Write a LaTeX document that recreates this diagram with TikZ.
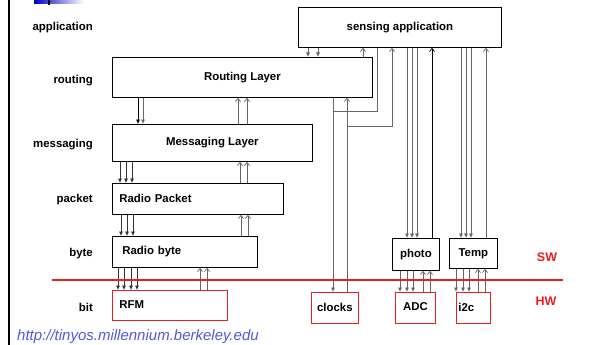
\documentclass[tikz,border=0pt]{standalone}
\usepackage{fontspec}
\setmainfont{Liberation Sans}
\usetikzlibrary{arrows.meta}
\definecolor{urlblue}{RGB}{85,85,225}
\definecolor{hwred}{RGB}{235,30,30}
\begin{document}
\begin{tikzpicture}[x=1pt,y=-1pt,
  lbl/.style={font=\bfseries\fontsize{11.4}{13}\selectfont, inner sep=0pt},
  box/.style={draw=black, line width=0.8pt, fill=white, inner sep=0pt,
    anchor=north west, font=\bfseries\fontsize{11.4}{13}\selectfont},
  hwbox/.style={box, draw=hwred},
  leftbox/.style={box, align=left, text width=#1, inner xsep=7pt},
  conn/.style={line width=0.7pt, draw=black!60},
  dn/.style={conn, -{Latex[length=4.5pt,width=4pt]}},
  upa/.style={conn, -{Straight Barb[length=3.2pt,width=5pt]}},
  swhw/.style={font=\bfseries\fontsize{12.5}{14}\selectfont, text=hwred, inner sep=0pt}
]
\useasboundingbox (0,0) rectangle (592,345);

% page decoration: side rule and title bar stub
\draw[line width=2pt] (9,0) -- (9,345);
\shade[left color=blue!75!black, right color=white] (34,0) rectangle (84,3.5);
\draw[line width=1.5pt] (49,0) -- (49,5);

% layer names
\node[lbl, anchor=base east] (lapp) at (93,31) {application};
\node[lbl, anchor=base east] (lrout) at (93,84) {routing};
\node[lbl, anchor=base east] (lmsg) at (93,147) {messaging};
\node[lbl, anchor=base east] (lpkt) at (93,202) {packet};
\node[lbl, anchor=base east] (lbyte) at (93,256) {byte};
\node[lbl, anchor=base east] (lbit) at (93,311) {bit};

% software components
\node[box, minimum width=203pt, minimum height=40pt] (app) at (298,7) {sensing application};
\node[box, minimum width=260pt, minimum height=40pt] (route) at (112,57) {Routing Layer};
\node[box, minimum width=200pt, minimum height=37pt] (msg) at (112,124) {Messaging Layer};
\node[leftbox=157pt, minimum height=31pt] (pkt) at (112,183) {\raisebox{2pt}{Radio Packet}};
\node[leftbox=131pt, minimum height=31pt] (byte) at (112,236) {\hspace*{3pt}\raisebox{1pt}{Radio byte}};
\node[box, minimum width=47pt, minimum height=32pt] (photo) at (392,238) {photo};
\node[box, minimum width=48pt, minimum height=30pt] (temp) at (449,238) {\raisebox{2pt}{Temp}};

% hardware components
\node[hwbox, align=left, text width=101pt, inner xsep=7pt, minimum height=30pt] (rfm) at (112,290) {\raisebox{2pt}{RFM}};
\node[hwbox, minimum width=47pt, minimum height=31pt] (clocks) at (311,292) {\raisebox{-3pt}{clocks}};
\node[hwbox, minimum width=40pt, minimum height=31pt] (adc) at (395,292) {\raisebox{2pt}{ADC}};
\node[hwbox, align=left, text width=30pt, inner xsep=2pt, minimum height=31pt] (i2c) at (456,292) {\raisebox{1pt}{i2c}};

% application <-> routing
\foreach \x in {308,318} \draw[dn] (\x,0 |- app.south) -- (\x,0 |- route.north);
\draw[upa] (363,0 |- route.north) -- (363,0 |- app.south);

% clocks
\coordinate (cjoin) at (333,111);
\coordinate (cbend) at (377,111);
\draw[conn] (377,0 |- app.south) -- (cbend) -- (cjoin);
\draw[dn] (333,0 |- route.south) -- (333,0 |- clocks.north);
\coordinate (ksplit) at (347,126);
\coordinate (kbend) at (392,126);
\draw[upa] (347,0 |- clocks.north) -- (347,0 |- route.south);
\draw[upa] (ksplit) -- (kbend) -- (392,0 |- app.south);

% application <-> photo / Temp
\foreach \x in {407,412,417} \draw[dn] (\x,0 |- app.south) -- (\x,0 |- photo.north);
\draw[upa, draw=black] (432,0 |- photo.north) -- (432,0 |- app.south);
\foreach \x in {461,466,471} \draw[dn] (\x,0 |- app.south) -- (\x,0 |- temp.north);
\draw[upa] (486,0 |- temp.north) -- (486,0 |- app.south);

% routing <-> messaging
\draw[dn, draw=black] (138,0 |- route.south) -- (138,0 |- msg.north);
\draw[dn] (143,0 |- route.south) -- (143,0 |- msg.north);
\foreach \x in {238,247} \draw[upa] (\x,0 |- msg.north) -- (\x,0 |- route.south);

% messaging <-> packet
\foreach \x in {120,126,132} \draw[dn, draw=black!80] (\x,0 |- msg.south) -- (\x,0 |- pkt.north);
\foreach \x in {240,247} \draw[upa] (\x,0 |- pkt.north) -- (\x,0 |- msg.south);

% packet <-> byte
\foreach \x in {121,127,133} \draw[dn, draw=black!80] (\x,0 |- pkt.south) -- (\x,0 |- byte.north);
\foreach \x in {241,248} \draw[upa] (\x,0 |- byte.north) -- (\x,0 |- pkt.south);

% byte <-> RFM
\foreach \x in {118,124,131,137} \draw[dn, draw=black!80] (\x,0 |- byte.south) -- (\x,0 |- rfm.north);
\foreach \x in {200,207} \draw[upa] (\x,0 |- rfm.north) -- (\x,0 |- byte.south);

% photo <-> ADC
\foreach \x in {400,407,413} \draw[dn] (\x,0 |- photo.south) -- (\x,0 |- adc.north);
\foreach \x in {423,430} \draw[upa] (\x,0 |- adc.north) -- (\x,0 |- photo.south);

% Temp <-> i2c
\foreach \x in {456,463,469} \draw[dn] (\x,0 |- temp.south) -- (\x,0 |- i2c.north);
\foreach \x in {478,485} \draw[upa] (\x,0 |- i2c.north) -- (\x,0 |- temp.south);

% software / hardware boundary
\coordinate (bl) at (52,280);
\coordinate (br) at (563,280);
\draw[hwred, line width=2pt] (bl) -- (br);
\node[swhw] (sw) at (547,257) {SW};
\node[swhw] (hw) at (546,301) {HW};

% source link
\node[anchor=base west, inner sep=0pt, text=urlblue, font=\itshape\fontsize{15}{17}\selectfont] (url) at (17,340) {http://tinyos.millennium.berkeley.edu};
\end{tikzpicture}
\end{document}
